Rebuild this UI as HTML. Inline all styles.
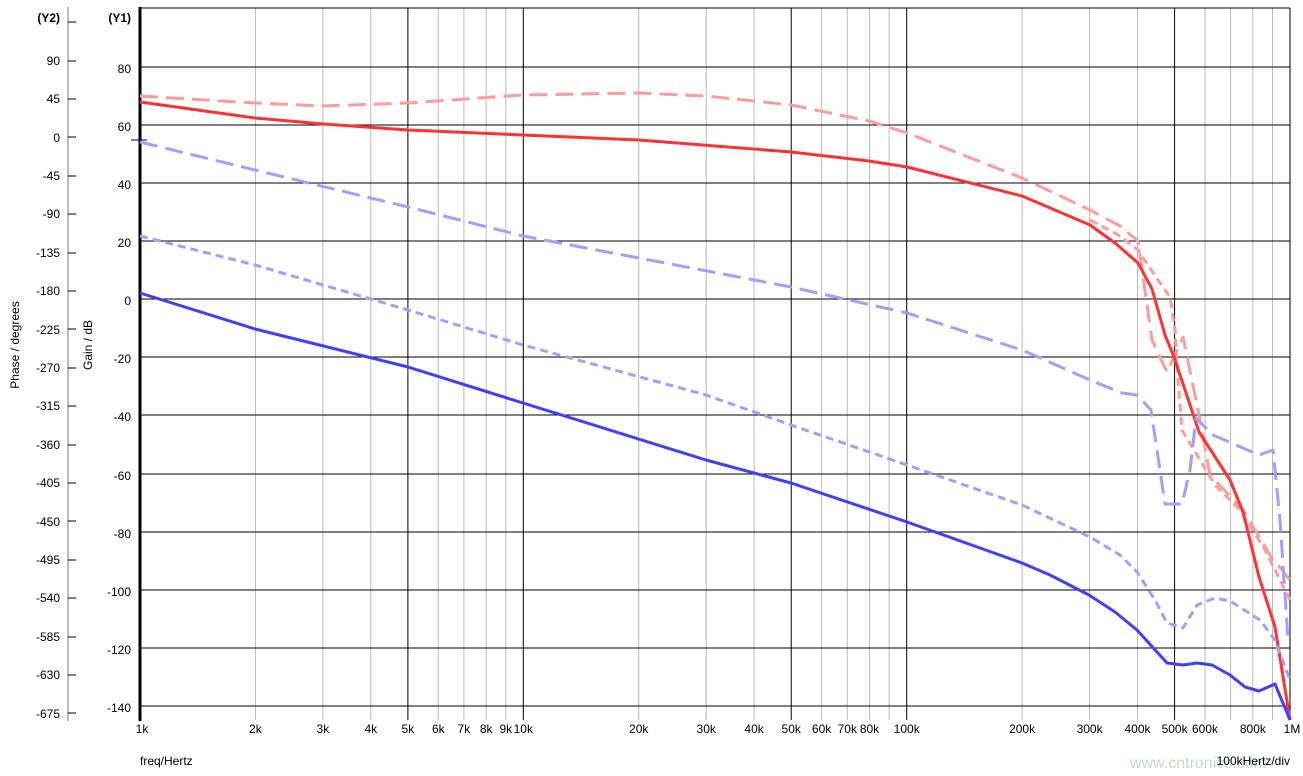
<!DOCTYPE html><html><head><style>body{margin:0;background:#fff}svg{display:block;font-family:"Liberation Sans",sans-serif}</style></head><body>
<svg width="1303" height="776" viewBox="0 0 1303 776">
<g stroke="#bbb" stroke-width="1">
<line x1="255.4" y1="8" x2="255.4" y2="720"/><line x1="322.9" y1="8" x2="322.9" y2="720"/><line x1="370.8" y1="8" x2="370.8" y2="720"/><line x1="463.9" y1="8" x2="463.9" y2="720"/><line x1="438.3" y1="8" x2="438.3" y2="720"/><line x1="486.2" y1="8" x2="486.2" y2="720"/><line x1="505.8" y1="8" x2="505.8" y2="720"/>
<line x1="638.7" y1="8" x2="638.7" y2="720"/><line x1="706.2" y1="8" x2="706.2" y2="720"/><line x1="754.1" y1="8" x2="754.1" y2="720"/><line x1="821.6" y1="8" x2="821.6" y2="720"/><line x1="847.3" y1="8" x2="847.3" y2="720"/><line x1="869.5" y1="8" x2="869.5" y2="720"/><line x1="889.1" y1="8" x2="889.1" y2="720"/>
<line x1="1022.1" y1="8" x2="1022.1" y2="720"/><line x1="1089.6" y1="8" x2="1089.6" y2="720"/><line x1="1137.5" y1="8" x2="1137.5" y2="720"/><line x1="1205" y1="8" x2="1205" y2="720"/><line x1="1230.6" y1="8" x2="1230.6" y2="720"/><line x1="1252.9" y1="8" x2="1252.9" y2="720"/><line x1="1272.5" y1="8" x2="1272.5" y2="720"/>
</g>
<g stroke="#000" stroke-width="1">
<line x1="407.9" y1="8" x2="407.9" y2="720"/><line x1="791.2" y1="8" x2="791.2" y2="720"/><line x1="1174.6" y1="8" x2="1174.6" y2="720"/>
<line x1="523.3" y1="8" x2="523.3" y2="720"/><line x1="906.7" y1="8" x2="906.7" y2="720"/><line x1="1290" y1="8" x2="1290" y2="720"/>
<line x1="140" y1="8" x2="1290" y2="8"/>
<line x1="140" y1="67" x2="1290" y2="67"/><line x1="140" y1="125" x2="1290" y2="125"/><line x1="140" y1="183" x2="1290" y2="183"/><line x1="140" y1="241" x2="1290" y2="241"/><line x1="140" y1="299" x2="1290" y2="299"/><line x1="140" y1="357" x2="1290" y2="357"/><line x1="140" y1="415" x2="1290" y2="415"/><line x1="140" y1="474" x2="1290" y2="474"/><line x1="140" y1="532" x2="1290" y2="532"/><line x1="140" y1="590" x2="1290" y2="590"/><line x1="140" y1="648" x2="1290" y2="648"/><line x1="140" y1="706" x2="1290" y2="706"/>
<line x1="131" y1="140" x2="147" y2="140"/>
</g>
<line x1="140" y1="7" x2="140" y2="721" stroke="#000" stroke-width="3"/>
<line x1="68" y1="7" x2="68" y2="721" stroke="#bbb" stroke-width="2"/>
<g stroke="#000" stroke-width="1">
<line x1="68" y1="22" x2="76" y2="22"/><line x1="68" y1="61" x2="76" y2="61"/><line x1="68" y1="99" x2="76" y2="99"/><line x1="68" y1="137" x2="76" y2="137"/><line x1="68" y1="176" x2="76" y2="176"/><line x1="68" y1="214" x2="76" y2="214"/><line x1="68" y1="253" x2="76" y2="253"/><line x1="68" y1="291" x2="76" y2="291"/><line x1="68" y1="329" x2="76" y2="329"/><line x1="68" y1="368" x2="76" y2="368"/><line x1="68" y1="406" x2="76" y2="406"/><line x1="68" y1="445" x2="76" y2="445"/><line x1="68" y1="483" x2="76" y2="483"/><line x1="68" y1="521" x2="76" y2="521"/><line x1="68" y1="560" x2="76" y2="560"/><line x1="68" y1="598" x2="76" y2="598"/><line x1="68" y1="637" x2="76" y2="637"/><line x1="68" y1="675" x2="76" y2="675"/><line x1="68" y1="713" x2="76" y2="713"/>
</g>
<g font-size="12" text-anchor="end" fill="#000">
<text x="60" y="22" font-weight="bold">(Y2)</text><text x="131" y="22" font-weight="bold">(Y1)</text>
<text x="60" y="65">90</text><text x="60" y="103">45</text><text x="60" y="142">0</text><text x="60" y="180">-45</text><text x="60" y="218">-90</text><text x="60" y="257">-135</text><text x="60" y="295">-180</text><text x="60" y="334">-225</text><text x="60" y="372">-270</text><text x="60" y="410">-315</text><text x="60" y="449">-360</text><text x="60" y="487">-405</text><text x="60" y="526">-450</text><text x="60" y="564">-495</text><text x="60" y="602">-540</text><text x="60" y="641">-585</text><text x="60" y="679">-630</text><text x="60" y="718">-675</text>
<text x="131" y="73">80</text><text x="131" y="131">60</text><text x="131" y="189">40</text><text x="131" y="247">20</text><text x="131" y="305">0</text><text x="131" y="363">-20</text><text x="131" y="421">-40</text><text x="131" y="480">-60</text><text x="131" y="538">-80</text><text x="131" y="596">-100</text><text x="131" y="654">-120</text><text x="131" y="712">-140</text>
</g>
<text transform="translate(19,345) rotate(-90)" font-size="12" text-anchor="middle">Phase / degrees</text>
<text transform="translate(92,345) rotate(-90)" font-size="12" text-anchor="middle">Gain / dB</text>
<g font-size="12" text-anchor="middle">
<text x="142" y="733">1k</text><text x="255.4" y="733">2k</text><text x="322.9" y="733">3k</text><text x="370.8" y="733">4k</text><text x="407.9" y="733">5k</text><text x="438.3" y="733">6k</text><text x="463.9" y="733">7k</text><text x="486.2" y="733">8k</text><text x="505.8" y="733">9k</text><text x="523.3" y="733">10k</text>
<text x="638.7" y="733">20k</text><text x="706.2" y="733">30k</text><text x="754.1" y="733">40k</text><text x="791.2" y="733">50k</text><text x="821.6" y="733">60k</text><text x="847.3" y="733">70k</text><text x="869.5" y="733">80k</text><text x="906.7" y="733">100k</text>
<text x="1022.1" y="733">200k</text><text x="1089.6" y="733">300k</text><text x="1137.5" y="733">400k</text><text x="1174.6" y="733">500k</text><text x="1205" y="733">600k</text><text x="1252.9" y="733">800k</text><text x="1292" y="733">1M</text>
</g>
<text x="140" y="765" font-size="12">freq/Hertz</text>
<text x="1130" y="768" font-size="16" fill="#bfe0bf">www.cntronics.com</text>
<text x="1290" y="765" font-size="12" text-anchor="end">100kHertz/div</text>
<g fill="none" stroke-width="3" stroke-linejoin="round">
<polyline stroke="#ff9c9c" stroke-dasharray="18,8" points="140,96 255,103 323,106 408,103 523,95 639,93 706,96 791,105 869,121 907,133 1022,178 1090,210 1120,226 1138,241 1152,340 1167,372 1183,337 1200,420 1210,475 1243,510 1270,555 1290,580"/>
<polyline stroke="#ff9c9c" stroke-dasharray="8,5" points="1090,220 1120,236 1138,250 1160,283 1170,297 1175,330 1178,380 1182,430 1200,460 1215,485 1240,510 1265,550 1290,600"/>
<polyline stroke="#ff3333" points="140,102 255,118 323,124 408,130 523,135 639,140 791,152 869,161 907,167 1022,196 1090,225 1115,243 1138,263 1152,289 1165,335 1174,357 1199,432 1230,480 1243,512 1259,577 1275,627 1290,720"/>
<polyline stroke="#a0a0ff" stroke-dasharray="18,8" points="140,142 255,170 408,207 523,236 639,258 791,287 907,313 1022,350 1090,380 1122,393 1137,395 1151,410 1165,504 1182,504 1190,470 1196,418 1213,435 1259,455 1273,450 1280,520 1288,640"/>
<polyline stroke="#a0a0ff" stroke-dasharray="8,5" points="140,236 255,265 408,310 523,345 706,395 791,425 907,465 1022,505 1090,537 1120,555 1137,572 1155,600 1167,623 1183,628 1197,605 1215,598 1230,601 1260,620 1275,640 1290,680"/>
<polyline stroke="#3f3fff" points="140,293 255,329 408,367 523,403 706,460 791,483 907,522 1022,563 1050,575 1089,595 1115,612 1137,630 1167,663 1183,665 1197,663 1212,665 1230,675 1245,687 1259,691 1275,684 1290,720"/>
</g>
</svg></body></html>
